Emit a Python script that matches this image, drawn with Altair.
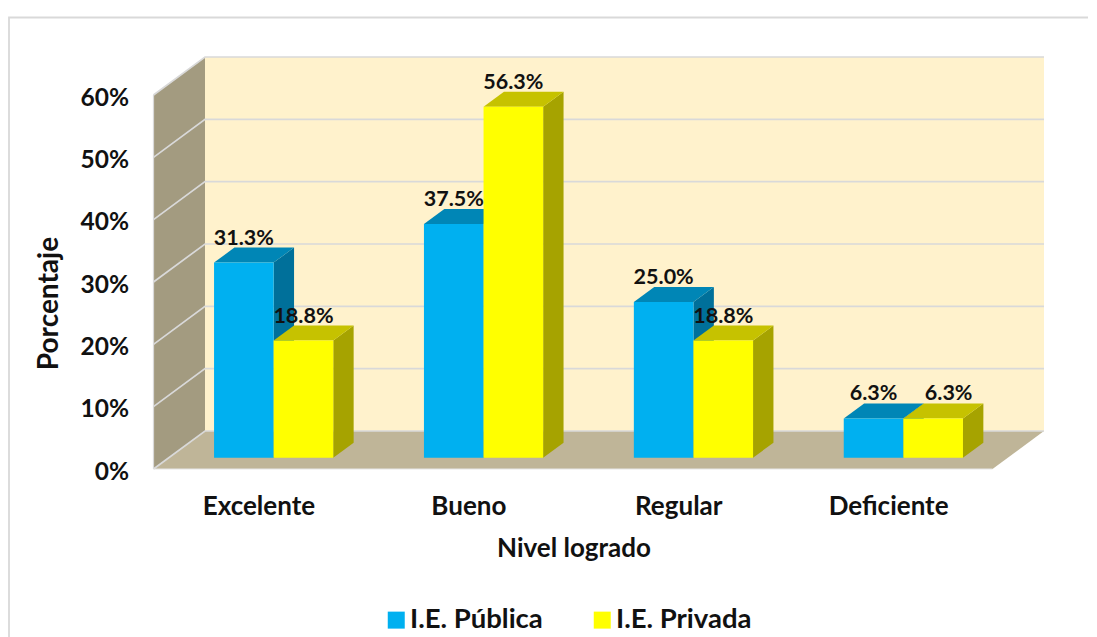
import altair as alt
import pandas as pd

categories = ["Excelente", "Bueno", "Regular", "Deficiente"]
publica = [31.3, 37.5, 25.0, 6.3]
privada = [18.8, 56.3, 18.8, 6.3]
series_names = ["I.E. Pública", "I.E. Privada"]
ticks = [0, 10, 20, 30, 40, 50, 60]

FONT = "Lato"
X0, X1 = 153.5, 1044.0
UNIT = 6.233
YTOP = 412 / UNIT
WALL_DX, WALL_DY = 51.5, 38 / UNIT
BAR_DX, BAR_DY = 20.4, 15 / UNIT
BASE = 11.3 / UNIT
CAT_W = 209.9
BAR_W = 59.6
GRID = "#d9d9d9"
INK = "#111111"

centers = [X0 + (i + 0.5) * CAT_W for i in range(4)]
cat_expr = "{" + ",".join(f"'{c:.2f}':'{n}'" for c, n in zip(centers, categories)) + "}[format(datum.value,'.2f')]"

x_scale = alt.Scale(domain=[X0, X1], nice=False, zero=False)
y_scale = alt.Scale(domain=[0, YTOP], nice=False, zero=False)
x_axis = alt.Axis(
    values=centers, labelExpr=cat_expr, title="Nivel logrado", grid=False, domain=False, ticks=False,
    labelPadding=24, labelFont=FONT, labelFontWeight="bold", labelFontSize=26, labelColor=INK,
    titleFont=FONT, titleFontWeight="bold", titleFontSize=26, titleColor=INK,
    titleX=420, titleY=66, labelOverlap=False)
y_axis = alt.Axis(
    values=ticks, labelExpr="datum.value + '%'", title="Porcentaje", grid=False, domain=False, ticks=False,
    labelPadding=25, labelFont=FONT, labelFontWeight="bold", labelFontSize=24.5, labelColor=INK, labelOffset=3,
    titleFont=FONT, titleFontWeight="bold", titleFontSize=28, titleColor=INK,
    titleX=-90, titleY=246, labelOverlap=False)
X = lambda f: alt.X(f, type="quantitative", scale=x_scale, axis=x_axis)
Y = lambda f: alt.Y(f, type="quantitative", scale=y_scale, axis=y_axis)

front, tops, sides, labels = [], [], [], []
for s, (name, vals) in enumerate(zip(series_names, [publica, privada])):
    for i, v in enumerate(vals):
        left = centers[i] - 44.4 + s * BAR_W
        right = left + BAR_W
        top = BASE + v
        key = f"{name}-{i}"
        front.append(dict(serie=name, x=left, x2=right, y=BASE, y2=top))
        for k in (0, 1):
            tops.append(dict(serie=name, key=key, y=top + k * BAR_DY,
                             x=left + k * BAR_DX, x2=right + k * BAR_DX))
            sides.append(dict(serie=name, key=key, x=right + k * BAR_DX,
                              y=BASE + k * BAR_DY, y2=top + k * BAR_DY))
        shift = 15.5 if (i == 3 and s == 1) else 0
        labels.append(dict(x=(left + right) / 2 + shift, y=top + BAR_DY,
                           t=f"{v:.1f}%"))

front, tops, sides, labels = map(pd.DataFrame, (front, tops, sides, labels))

# frame of the chart area: only its left and top edges are in view
frame = alt.Chart(pd.DataFrame([
    dict(o=0, x=9, y=(469 - 640) / UNIT),
    dict(o=1, x=9, y=(469 - 17.5) / UNIT),
    dict(o=2, x=1100, y=(469 - 17.5) / UNIT),
])).mark_line(color=GRID, strokeWidth=1.8).encode(x=X("x"), y=Y("y"), order="o:Q")

wall = alt.Chart(pd.DataFrame([dict(x=X0 + WALL_DX, x2=X1, y=WALL_DY, y2=YTOP)])).mark_rect(
    fill="#FFF2CC"
).encode(x=X("x"), x2="x2", y=Y("y"), y2="y2")

side_wall = alt.Chart(pd.DataFrame([
    dict(x=X0, y=0, y2=60),
    dict(x=X0 + WALL_DX, y=WALL_DY, y2=YTOP),
])).mark_area(fill="#A39B80", opacity=1).encode(x=X("x"), y=Y("y"), y2="y2")

floor = alt.Chart(pd.DataFrame([
    dict(y=0, x=X0, x2=X1 - WALL_DX),
    dict(y=WALL_DY, x=X0 + WALL_DX, x2=X1),
])).mark_area(orient="horizontal", fill="#BFB598", opacity=1).encode(y=Y("y"), x=X("x"), x2="x2")

grid_rows = []
for t in ticks:
    grid_rows += [dict(t=t, x=X0, y=t), dict(t=t, x=X0 + WALL_DX, y=t + WALL_DY),
                  dict(t=t, x=X1, y=t + WALL_DY)]
grid = alt.Chart(pd.DataFrame(grid_rows)).mark_line(color=GRID, strokeWidth=1.7).encode(
    x=X("x"), y=Y("y"), detail="t:N", order="x:Q"
)
front_edge = alt.Chart(pd.DataFrame([dict(x=X0, y=0), dict(x=X0, y=60)])).mark_line(
    color=GRID, strokeWidth=1.2).encode(x=X("x"), y=Y("y"))
floor_edge = alt.Chart(pd.DataFrame([dict(x=X0, y=0), dict(x=X1 - WALL_DX, y=0)])).mark_line(
    color="#e6e6e6", strokeWidth=1.2).encode(x=X("x"), y=Y("y"))

colors = {"I.E. Pública": ("#00B0F0", "#0086B6", "#00709A"),
          "I.E. Privada": ("#FFFF00", "#C6C200", "#A6A300")}

face_layers = []
for name in series_names:
    c = colors[name]
    face_layers.append(alt.Chart(sides[sides.serie == name]).mark_area(fill=c[2], opacity=1).encode(
        x=X("x"), y=Y("y"), y2="y2", detail="key:N"))
    face_layers.append(alt.Chart(tops[tops.serie == name]).mark_area(orient="horizontal", fill=c[1], opacity=1).encode(
        y=Y("y"), x=X("x"), x2="x2", detail="key:N"))

fronts = alt.Chart(front).mark_rect().encode(
    x=X("x"), x2="x2", y=Y("y"), y2="y2",
    color=alt.Color("serie:N", scale=alt.Scale(domain=series_names, range=[colors[n][0] for n in series_names]),
                    legend=alt.Legend(title=None, orient="none", direction="horizontal", legendX=229, legendY=549,
                                      symbolType="square", symbolSize=289, symbolStrokeWidth=0, labelFont=FONT,
                                      labelFontWeight="bold", labelFontSize=27.5, labelColor=INK,
                                      columnPadding=45, labelOffset=0, labelLimit=300)),
)

value_labels = alt.Chart(labels).mark_text(font=FONT, fontWeight="bold", fontSize=21.5, color=INK, dy=-9).encode(
    x=X("x"), y=Y("y"), text="t:N")

chart = alt.layer(frame, wall, side_wall, floor, grid, front_edge, floor_edge, *face_layers, fronts, value_labels).properties(
    width=X1 - X0, height=412,
    padding={"left": 145.5, "top": 49, "right": 44, "bottom": 168},
    autosize=alt.AutoSizeParams(type="none"),
).configure_view(stroke=None)

chart.save("out.html", embed_options={"renderer": "svg", "actions": False})
